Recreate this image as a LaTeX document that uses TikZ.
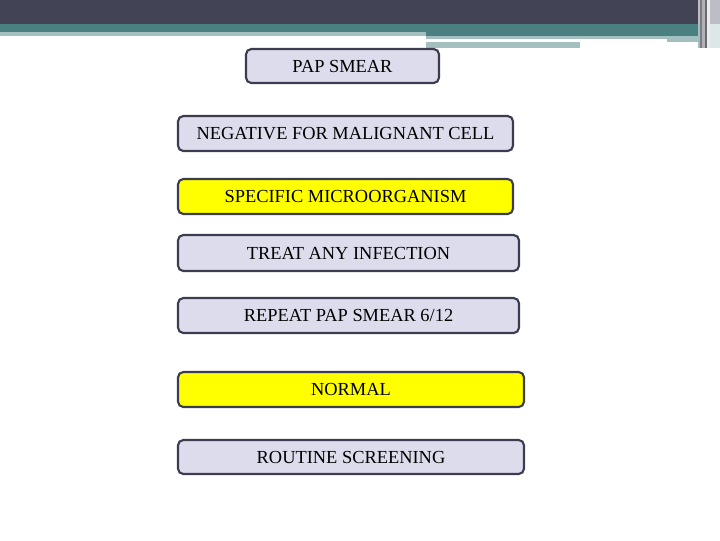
\documentclass[tikz,border=0pt]{standalone}
\usepackage{fontspec}
\setmainfont{Liberation Serif}
\definecolor{bandDark}{HTML}{434356}
\definecolor{bandTeal}{HTML}{4A8080}
\definecolor{bandLight}{HTML}{A3BFBF}
\definecolor{boxFill}{HTML}{DCDCEC}
\definecolor{boxLine}{HTML}{3C3C50}
\definecolor{boxYellow}{HTML}{FFFF00}
\definecolor{edgeGray}{HTML}{BDBDC5}
\definecolor{edgePale}{HTML}{DCE8E8}
\begin{document}
\begin{tikzpicture}[x=0.75pt,y=-0.75pt,
  flowbox/.style={draw=boxLine,line width=1.6pt,rounded corners=4pt,fill=boxFill,
    inner sep=0pt,font=\fontsize{13.8}{15}\selectfont},
  hibox/.style={flowbox,fill=boxYellow}]
\useasboundingbox (0,0) rectangle (720,540);
% top banner
\fill[bandDark] (0,0) rectangle (720,24);
\fill[bandTeal] (0,24) rectangle (720,32);
\fill[bandLight] (0,32) rectangle (426,36);
\fill[bandTeal] (426,32) rectangle (720,36);
\fill[bandLight] (426,36) rectangle (720,42);
\fill[white] (426,39) rectangle (667,42);
\fill[bandLight] (426,42) rectangle (580,48);
% right edge stripes
\fill[edgeGray] (698,0) rectangle (720,24);
\fill[bandLight] (698,24) rectangle (720,48);
\fill[edgePale] (710,24) rectangle (720,48);
\fill[bandDark!70!white] (700,0) rectangle (702,48);
\fill[gray!60] (702,0) rectangle (705,48);
\fill[bandDark!80!white] (705,0) rectangle (707,48);
\fill[white!85!gray] (707,0) rectangle (710,48);
% boxes
\node[flowbox,minimum width=193*0.75pt,minimum height=34*0.75pt] (pap) at (342.5,66) {PAP SMEAR};
\node[flowbox,minimum width=335*0.75pt,minimum height=35*0.75pt] (neg) at (345.5,133.5) {NEGATIVE FOR MALIGNANT CELL};
\node[hibox,minimum width=335*0.75pt,minimum height=35*0.75pt] (spec) at (345.5,196.5) {SPECIFIC MICROORGANISM};
\node[flowbox,minimum width=341*0.75pt,minimum height=36*0.75pt] (treat) at (348.5,253) {TREAT ANY INFECTION};
\node[flowbox,minimum width=341*0.75pt,minimum height=35*0.75pt] (rep) at (348.5,315.5) {REPEAT PAP SMEAR 6/12};
\node[hibox,minimum width=346*0.75pt,minimum height=35*0.75pt] (norm) at (351,389.5) {NORMAL};
\node[flowbox,minimum width=346*0.75pt,minimum height=34*0.75pt] (rout) at (351,457) {ROUTINE SCREENING};
\end{tikzpicture}
\end{document}
